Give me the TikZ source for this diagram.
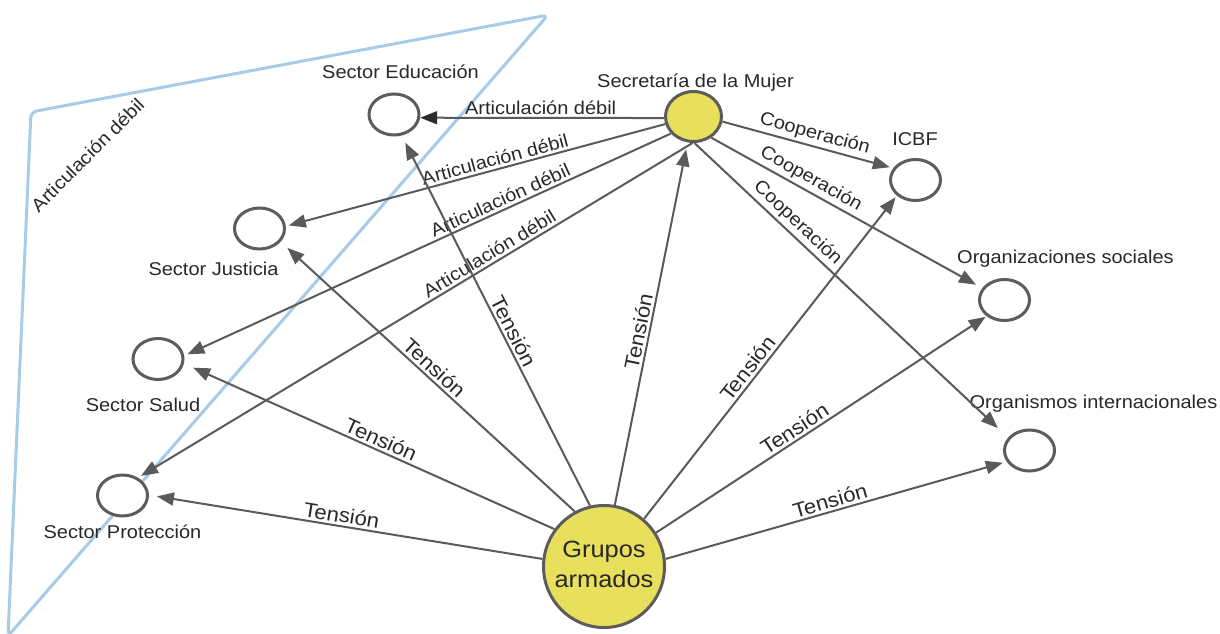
\documentclass[tikz,border=0pt]{standalone}
\usepackage{fontspec}
\setmainfont{Liberation Sans}[FakeStretch=1.08]
\usetikzlibrary{arrows.meta,shapes.geometric}
\definecolor{edgec}{RGB}{90,90,90}
\definecolor{nodec}{RGB}{92,92,92}
\definecolor{yel}{RGB}{232,223,92}
\definecolor{blu}{RGB}{166,204,232}
\definecolor{tipdark}{RGB}{45,45,45}
\definecolor{txt}{RGB}{40,40,40}
\begin{document}
\begin{tikzpicture}[x=1pt,y=-1pt,
  every node/.style={font=\fontsize{18.5}{22}\selectfont, text=txt},
  actor/.style={ellipse, draw=nodec, line width=3pt, fill=white, minimum width=50pt, minimum height=41pt, inner sep=0pt},
  hub/.style={ellipse, draw=nodec, line width=3pt, fill=yel, inner sep=0pt},
  namelbl/.style={anchor=base, inner sep=0pt},
  conn/.style={draw=edgec, line width=2pt, -{Triangle[length=17pt,width=13pt]}},
  elab/.style={sloped, above, inner sep=2.5pt},
  tlab/.style={elab, font=\fontsize{20.5}{24}\selectfont}]
\useasboundingbox (0,0) rectangle (1220,634);
% blue boundary
\draw[blu, line width=3pt, rounded corners=6pt] (8,636) -- (31,112) -- (548,15) -- cycle;
\node[rotate=45] (ad) at (87.5,155) {Articulación débil};
% nodes
\node[actor] (Ed) at (394,114.5) {};
\node[actor] (J) at (259.5,228.5) {};
\node[actor] (Sa) at (158,359) {};
\node[actor] (Pr) at (122.5,495.5) {};
\node[actor] (I) at (915.5,180) {};
\node[actor] (O) at (1004.5,300) {};
\node[actor] (N) at (1029.5,450.5) {};
\node[hub, minimum width=56pt, minimum height=50pt] (Sc) at (693.5,116.5) {};
\node[hub, minimum width=121pt, minimum height=122pt] (G) at (604,566.5) {};
% names
\node[namelbl] (lEd) at (400.5,78) {Sector Educación};
\node[namelbl] (lJ) at (213.5,275) {Sector Justicia};
\node[namelbl] (lSa) at (143,411) {Sector Salud};
\node[namelbl] (lPr) at (122.5,538) {Sector Protección};
\node[namelbl] (lSc) at (695.5,87.5) {Secretaría de la Mujer};
\node[namelbl] (lI) at (915,145) {ICBF};
\node[namelbl] (lO) at (1065.5,263.5) {Organizaciones sociales};
\node[namelbl] (lN) at (1093.5,408.5) {Organismos internacionales};
\node[namelbl, font=\fontsize{23.5}{29}\selectfont] (lG1) at (604,557) {Grupos};
\node[namelbl, font=\fontsize{23.5}{29}\selectfont] (lG2) at (604,587) {armados};
% Secretaria edges
\draw[conn, -{Triangle[length=17pt,width=13pt,color=tipdark,fill=tipdark]}] (Sc.183) -- node[elab, pos=0.506] {Articulación débil} (Ed.-7);
\draw[conn, shorten >=3pt] (Sc.195.6) -- node[elab, pos=0.442] {Articulación débil} (J.5.4);
\draw[conn, shorten >=3.5pt] (Sc.217) -- node[elab, pos=0.342] {Articulación débil} (Sa.7.7);
\draw[conn, shorten >=3.5pt] (Sc.-92) -- node[elab, pos=0.357] {Articulación débil} (Pr.49.5);
\draw[conn, shorten >=3.5pt] (Sc.-10.9) -- node[elab, pos=0.522] {Cooperación} (I.152.5);
\draw[conn, shorten >=7pt] (Sc.-50.9) -- node[elab, pos=0.346] {Cooperación} (O.152.6);
\draw[conn, shorten >=14pt] (Sc.-88) -- node[elab, pos=0.302] {Cooperación} (N.149);
% Grupos edges
\draw[conn, shorten >=8pt] (G.173.4) -- node[tlab, pos=0.515] {Tensión} (Pr.1);
\draw[conn, shorten >=10pt] (G.143) -- node[tlab, pos=0.48] {Tensión} (Sa.-10.6);
\draw[conn, shorten >=9pt] (G.118.8) -- node[tlab, pos=0.503] {Tensión} (J.-32.6);
\draw[conn, shorten >=8pt] (G.103.3) -- node[tlab, pos=0.458] {Tensión} (Ed.-70.7);
\draw[conn, shorten >=7pt] (G.80.5) -- node[tlab, pos=0.473] {Tensión} (Sc.-103.5);
\draw[conn, shorten >=2pt] (G.50.2) -- node[tlab, pos=0.445] {Tensión} (I.-140.8);
\draw[conn, shorten >=1pt] (G.33.3) -- node[tlab, pos=0.437] {Tensión} (O.-138.8);
\draw[conn, shorten >=4pt] (G.7.9) -- node[tlab, pos=0.491] {Tensión} (N.-154.2);
\end{tikzpicture}
\end{document}
